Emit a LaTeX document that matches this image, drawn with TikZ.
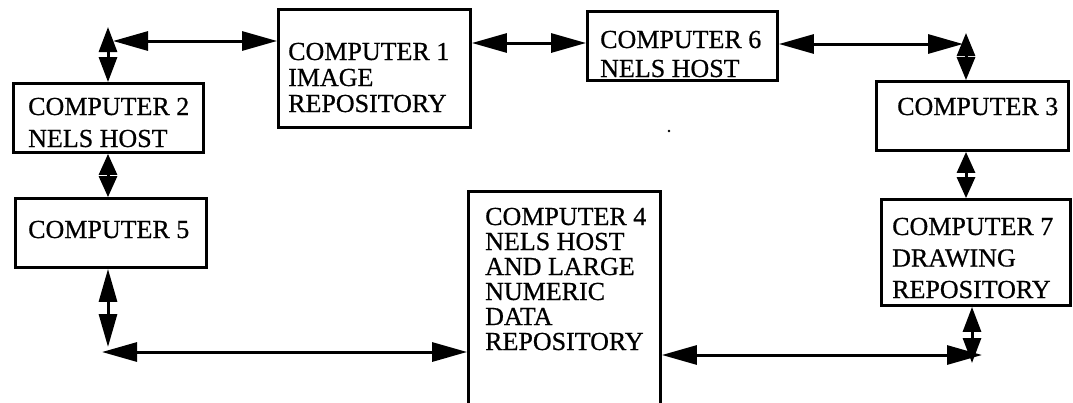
\documentclass[tikz,border=0pt]{standalone}
\usepackage{fontspec}
\setmainfont{Liberation Serif}
\newfontfamily\lblfont[FakeBold=0.6]{Liberation Serif}
\usetikzlibrary{arrows.meta}

% multi-line label: first baseline is the node's base
\newcommand\mlines[2]{\lblfont\fontsize{26}{#1}\selectfont\begin{tabular}[t]{@{}l@{}}#2\end{tabular}}

\begin{document}
\begin{tikzpicture}[x=1pt,y=-1pt,
  boxn/.style={draw, line width=2.8pt, inner sep=0pt, minimum width=#1},
  lbl/.style={inner sep=0pt, anchor=base west},
  dblh/.style={line width=3pt, {Triangle[length=35pt,width=19pt]}-{Triangle[length=35pt,width=19pt]}},
  dblv/.style={line width=3pt, {Triangle[length=#1,width=18pt]}-{Triangle[length=#1,width=18pt]}},
  dblv/.default=24pt]
\useasboundingbox (0,0) rectangle (1073,402);

% computers
\node[boxn=192pt, minimum height=118pt] (c1) at (374.5,68.5) {};
\node[boxn=190pt, minimum height=69pt]  (c2) at (108.5,118) {};
\node[boxn=192pt, minimum height=69pt]  (c3) at (972.5,116) {};
\node[boxn=192pt, minimum height=239pt] (c4) at (564.5,311) {};
\node[boxn=191pt, minimum height=69pt]  (c5) at (111,233) {};
\node[boxn=190pt, minimum height=69pt]  (c6) at (682.5,46) {};
\node[boxn=189pt, minimum height=106pt] (c7) at (976,252.5) {};

% labels
\node[lbl] (t1) at (288,60)  {\mlines{26pt}{COMPUTER 1\\IMAGE\\REPOSITORY}};
\node[lbl] (t2) at (28,115)  {\mlines{32pt}{COMPUTER 2\\NELS HOST}};
\node[lbl] (t3) at (897,115) {\mlines{26pt}{COMPUTER 3}};
\node[lbl] (t4) at (485,225) {\mlines{25pt}{COMPUTER 4\\NELS HOST\\AND LARGE\\NUMERIC\\DATA\\REPOSITORY}};
\node[lbl] (t5) at (28,238)  {\mlines{26pt}{COMPUTER 5}};
\node[lbl] (t6) at (600,48)  {\mlines{29pt}{COMPUTER 6\\NELS HOST}};
\node[lbl] (t7) at (892,235) {\mlines{31.5pt}{COMPUTER 7\\DRAWING\\REPOSITORY}};

% bend points of the links
\coordinate (tl)  at (108,27);
\coordinate (tlh) at (113,41);
\coordinate (tm)  at (0,43);
\coordinate (trh) at (963,44);
\coordinate (tr)  at (966,33);
\coordinate (bl)  at (108,347);
\coordinate (blh) at (102,352);
\coordinate (br)  at (972,363);
\coordinate (brh) at (982,355);

% links
\draw[dblv=25pt] (tl) -- (tl |- c2.north);
\draw[dblh] (tlh) -- (tlh -| c1.west);
\draw[dblv=21pt] (tl |- c2.south) -- (tl |- c5.north);
\draw[dblv=33pt] (bl |- c5.south) -- (bl);
\draw[dblh] (blh) -- (blh -| c4.west);
\draw[dblh] (c1.east |- tm) -- (c6.west |- tm);
\draw[dblh] (c6.east |- trh) -- (trh);
\draw[dblv=23pt] (tr) -- (tr |- c3.north);
\draw[dblv=21pt] (tr |- c3.south) -- (tr |- c7.north);
\draw[dblv=25pt] (br |- c7.south) -- (br);
\draw[dblh] (brh -| c4.east) -- (brh);

% speck
\fill (669,131) circle (1.3pt);
\end{tikzpicture}
\end{document}
